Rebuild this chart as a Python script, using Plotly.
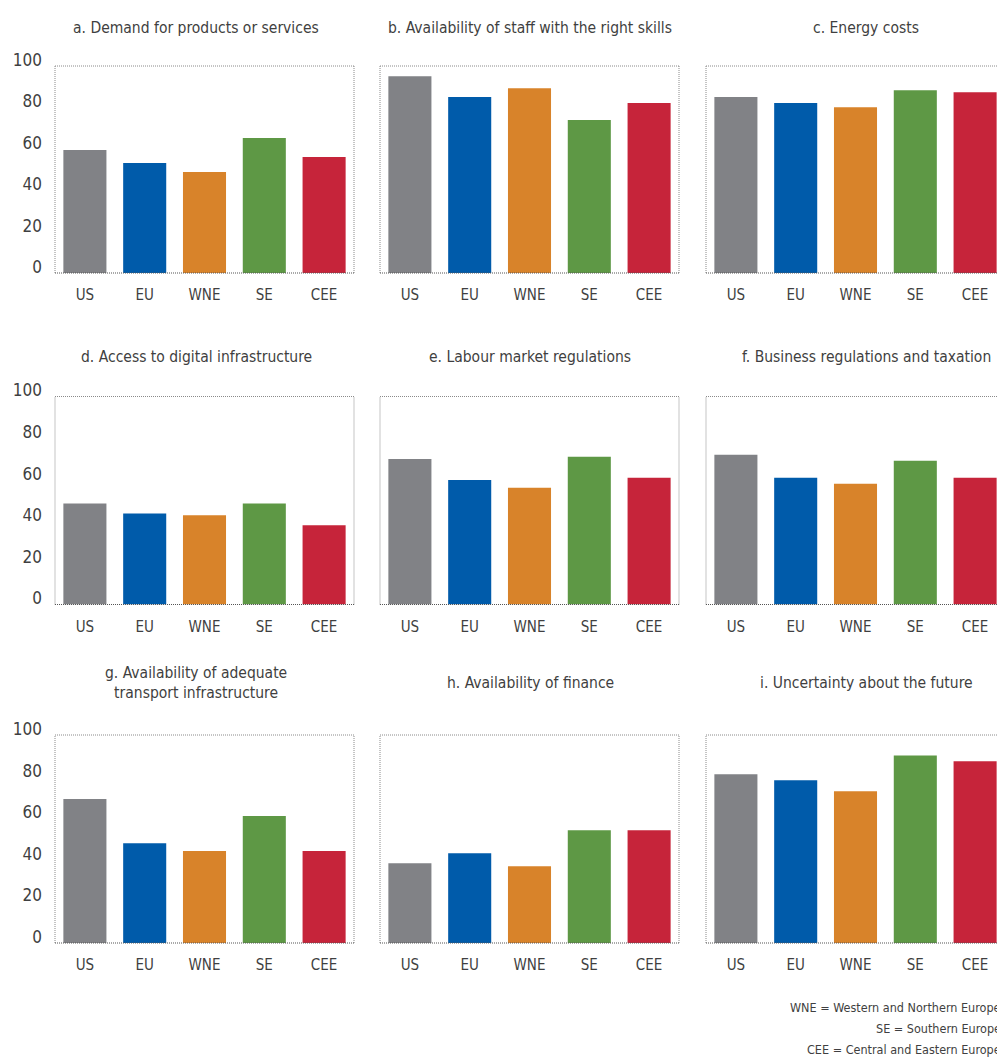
import plotly.graph_objects as go

regions = ["US", "EU", "WNE", "SE", "CEE"]
bar_colors = ["#818286", "#005BAA", "#D8832A", "#5E9845", "#C6243A"]

titles = [
    "a. Demand for products or services",
    "b. Availability of staff with the right skills",
    "c. Energy costs",
    "d. Access to digital infrastructure",
    "e. Labour market regulations",
    "f. Business regulations and taxation",
    "g. Availability of adequate<br>transport infrastructure",
    "h. Availability of finance",
    "i. Uncertainty about the future",
]

demand = [59.4, 53.1, 48.8, 65.2, 56.0]
staff_skills = [95.0, 85.0, 89.3, 73.9, 82.1]
energy_costs = [85.0, 82.1, 80.1, 88.3, 87.3]
digital_infra = [48.6, 43.8, 42.9, 48.6, 38.1]
labour_regs = [70.0, 59.9, 56.1, 71.0, 60.9]
business_regs = [72.0, 60.9, 58.0, 69.1, 60.9]
transport_infra = [69.2, 48.0, 44.2, 61.0, 44.2]
finance = [38.3, 43.1, 36.9, 54.2, 54.2]
uncertainty = [81.1, 78.3, 73.0, 90.2, 87.4]

panels = [demand, staff_skills, energy_costs, digital_infra, labour_regs,
          business_regs, transport_infra, finance, uncertainty]

y_ticks = [0, 20, 40, 60, 80, 100]
footnote = ["WNE = Western and Northern Europe",
            "SE = Southern Europe",
            "CEE = Central and Eastern Europe"]

W, H = 997, 1058
FONT = "Liberation Sans Narrow, DejaVu Sans Condensed, sans-serif"
TXT = "#3f3f41"

col_px = [(55, 354), (380, 679), (706, 997)]
row_px = [(66, 273), (396.5, 604.5), (735, 943)]
title_cx = [196, 530, 866]
title_cy = [28, 357, 683]
px_per_cat = 59.8

fig = go.Figure()
shapes = []
annotations = []
for i, vals in enumerate(panels):
    r, c = divmod(i, 3)
    n = i + 1
    xa = "x" if n == 1 else f"x{n}"
    ya = "y" if n == 1 else f"y{n}"
    fig.add_trace(go.Bar(x=regions, y=vals, marker=dict(color=bar_colors, line=dict(width=0)),
                         xaxis=xa, yaxis=ya, showlegend=False, hoverinfo="x+y"))
    x0, x1 = col_px[c]
    y0, y1 = row_px[r]
    xdom = [x0 / W, x1 / W]
    ydom = [1 - y1 / H, 1 - y0 / H]
    xr = [-0.5, -0.5 + (x1 - x0) / px_per_cat]
    fig.layout[f"xaxis{'' if n == 1 else n}"] = dict(
        domain=xdom, anchor=ya, range=xr, type="category", showgrid=False, zeroline=False,
        showline=False, ticks="", tickfont=dict(family=FONT, size=15, color=TXT),
        ticklabelstandoff=11, automargin=False, fixedrange=True)
    fig.layout[f"yaxis{'' if n == 1 else n}"] = dict(
        domain=ydom, anchor=xa, range=[0, 100], tickvals=y_ticks, showgrid=False,
        zeroline=False, showline=False, ticks="", showticklabels=(c == 0),
        tickfont=dict(family=FONT, size=17, color=TXT), ticklabelstandoff=12,
        ticklabelshift=-6, automargin=False, fixedrange=True)
    dash = "1px,1px"
    shapes.append(dict(type="line", xref=f"{xa} domain", yref=f"{ya} domain",
                       x0=0, x1=1, y0=1, y1=1, line=dict(color="#8a8a8a", width=1, dash=dash)))
    shapes.append(dict(type="line", xref=f"{xa} domain", yref=f"{ya} domain",
                       x0=0, x1=0, y0=0, y1=1, line=dict(color="#8a8a8a", width=1, dash=dash)))
    if c < 2:
        shapes.append(dict(type="line", xref=f"{xa} domain", yref=f"{ya} domain",
                           x0=1, x1=1, y0=0, y1=1, line=dict(color="#8a8a8a", width=1, dash=dash)))
    shapes.append(dict(type="line", xref=f"{xa} domain", yref=f"{ya} domain",
                       x0=0, x1=1, y0=0, y1=0, line=dict(color="#555555", width=1.2, dash=dash)))
    annotations.append(dict(text=titles[i], xref="paper", yref="paper",
                            x=title_cx[c] / W, y=1 - title_cy[r] / H, xanchor="center",
                            yanchor="middle", showarrow=False, align="center",
                            font=dict(family=FONT, size=15.5, color=TXT)))

for k, line in enumerate(footnote):
    annotations.append(dict(text=line, xref="paper", yref="paper", x=1003 / W,
                            y=1 - (1007 + 21 * k) / H, xanchor="right", yanchor="middle",
                            showarrow=False, font=dict(family=FONT, size=12.5, color=TXT)))

fig.update_layout(width=W, height=H, margin=dict(l=0, r=0, t=0, b=0, autoexpand=False),
                  paper_bgcolor="white", plot_bgcolor="white", bargap=0.28,
                  shapes=shapes, annotations=annotations)

fig.write_html(
    "out.html",
    config={"displayModeBar": False},
    post_script="document.body.style.margin='0';document.body.style.padding='0';"
                "document.documentElement.style.overflow='hidden';",
)
